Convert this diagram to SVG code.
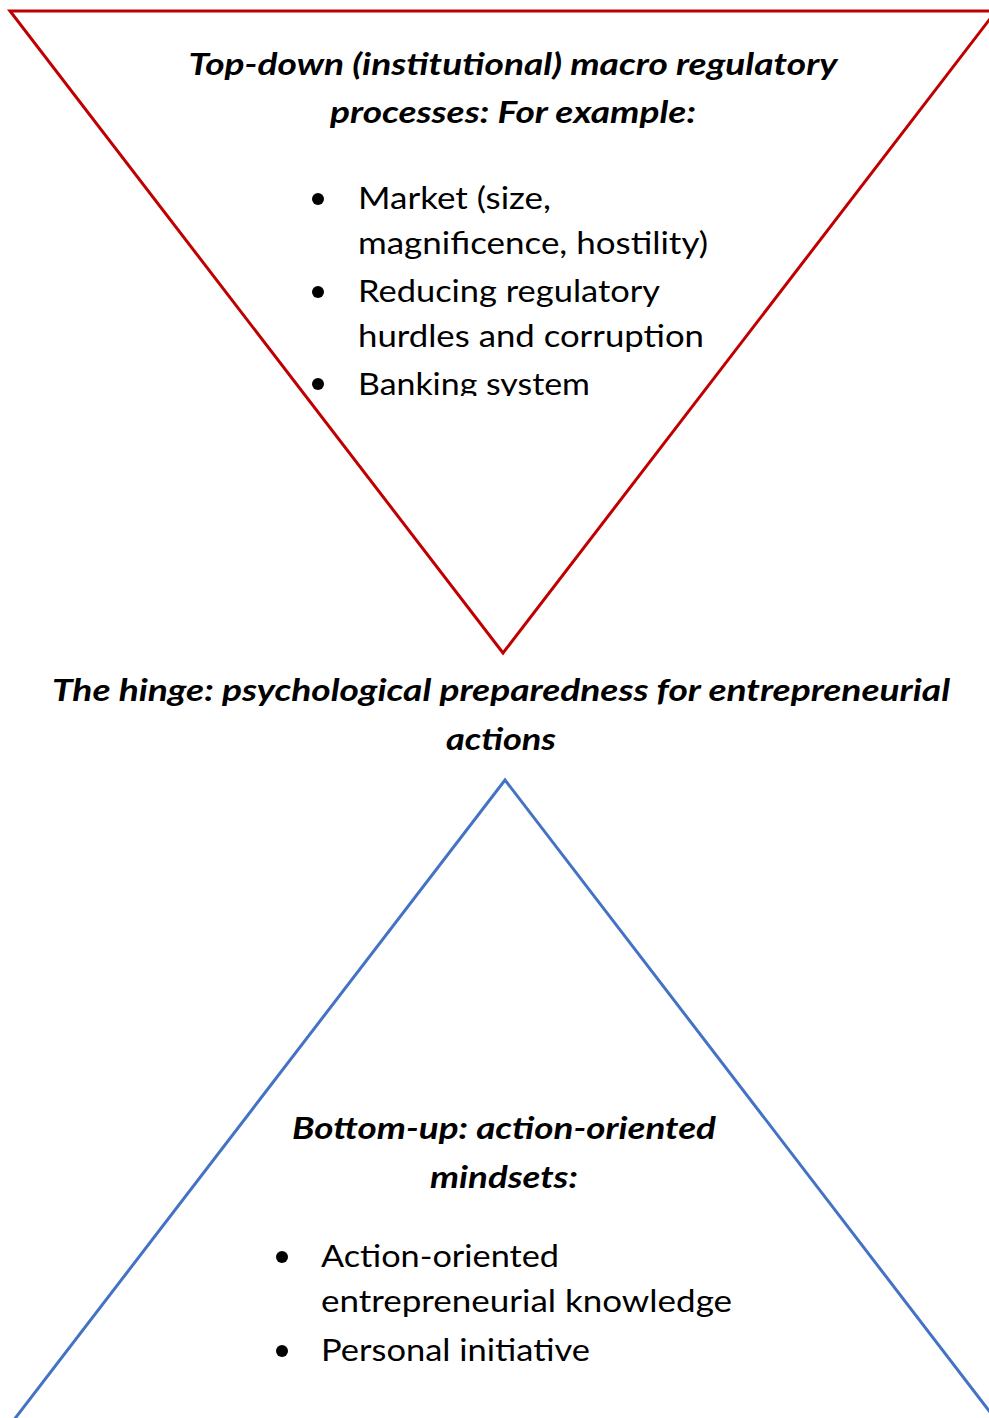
<svg xmlns="http://www.w3.org/2000/svg" width="989" height="1418" viewBox="0 0 989 1418">
  <style>
    .head { font-family: Lato, "Open Sans", "Liberation Sans", sans-serif; font-weight: bold; font-style: italic; font-size: 30px; fill: #000; }
    .item { font-family: Lato, "Open Sans", "Liberation Sans", sans-serif; font-size: 30px; fill: #000; }
    .dot { fill: #000; }
    .tri { fill: #fff; stroke-width: 3; stroke-linejoin: miter; }
  </style>
  <defs>
    <clipPath id="listClip">
      <rect x="0" y="0" width="989" height="396"/>
    </clipPath>
  </defs>
  <rect width="989" height="1418" fill="#fff"/>

  <!-- Inverted triangle: top-down institutional processes -->
  <g id="top-down">
    <polygon class="tri" points="10,11 996,11 503,653" stroke="#C00000"/>
    <text class="head" x="513" y="75" text-anchor="middle" textLength="649" lengthAdjust="spacingAndGlyphs">Top-down (institutional) macro regulatory</text>
    <text class="head" x="513" y="123" text-anchor="middle" textLength="366" lengthAdjust="spacingAndGlyphs">processes: For example:</text>
    <g clip-path="url(#listClip)">
      <circle class="dot" cx="318" cy="199" r="6"/>
      <circle class="dot" cx="318" cy="292" r="6"/>
      <circle class="dot" cx="318" cy="384" r="6"/>
      <text class="item" x="358" y="209" textLength="193" lengthAdjust="spacingAndGlyphs">Market (size,</text>
      <text class="item" x="358" y="254" textLength="350" lengthAdjust="spacingAndGlyphs">magnificence, hostility)</text>
      <text class="item" x="358" y="302" textLength="302" lengthAdjust="spacingAndGlyphs">Reducing regulatory</text>
      <text class="item" x="358" y="347" textLength="346" lengthAdjust="spacingAndGlyphs">hurdles and corruption</text>
      <text class="item" x="358" y="395" textLength="232" lengthAdjust="spacingAndGlyphs">Banking system</text>
    </g>
  </g>

  <!-- Middle caption -->
  <g id="hinge">
    <text class="head" x="501" y="701" text-anchor="middle" textLength="898" lengthAdjust="spacingAndGlyphs">The hinge: psychological preparedness for entrepreneurial</text>
    <text class="head" x="501" y="750" text-anchor="middle" textLength="110" lengthAdjust="spacingAndGlyphs">actions</text>
  </g>

  <!-- Upright triangle: bottom-up mindsets -->
  <g id="bottom-up">
    <polygon class="tri" points="505,780 1000,1425 10,1425" stroke="#4472C4"/>
    <text class="head" x="504" y="1139" text-anchor="middle" textLength="424" lengthAdjust="spacingAndGlyphs">Bottom-up: action-oriented</text>
    <text class="head" x="504" y="1188" text-anchor="middle" textLength="148" lengthAdjust="spacingAndGlyphs">mindsets:</text>
    <circle class="dot" cx="282" cy="1257" r="6"/>
    <circle class="dot" cx="282" cy="1351" r="6"/>
    <text class="item" x="321" y="1267" textLength="238" lengthAdjust="spacingAndGlyphs">Action-oriented</text>
    <text class="item" x="321" y="1312" textLength="411" lengthAdjust="spacingAndGlyphs">entrepreneurial knowledge</text>
    <text class="item" x="321" y="1361" textLength="269" lengthAdjust="spacingAndGlyphs">Personal initiative</text>
  </g>
</svg>
